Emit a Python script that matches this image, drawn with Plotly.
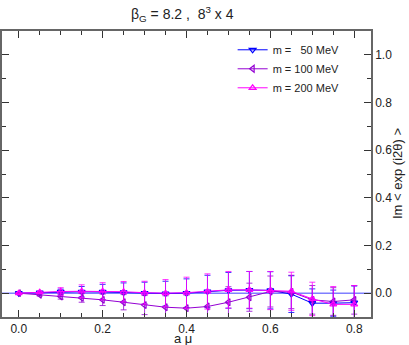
import plotly.graph_objects as go

# a*mu values
a_mu = [0.0, 0.05, 0.10, 0.15, 0.20, 0.25, 0.30, 0.35, 0.40,
        0.45, 0.50, 0.55, 0.60, 0.65, 0.70, 0.75, 0.80]

# Im < exp(i 2 theta) > per quark mass
im_50 = [0.0, 0.002, 0.005, 0.006, 0.005, 0.003, 0.0, -0.002, 0.0,
         0.007, 0.012, 0.013, 0.012, -0.004, -0.042, -0.042, -0.040]
err_50 = [0.0, 0.004, 0.012, 0.022, 0.032, 0.040, 0.046, 0.052, 0.060,
          0.068, 0.075, 0.078, 0.078, 0.077, 0.060, 0.055, 0.070]

im_100 = [0.0, -0.007, -0.014, -0.020, -0.028, -0.038, -0.050, -0.059, -0.063,
          -0.056, -0.038, -0.017, 0.007, 0.005, -0.028, -0.035, -0.028]
err_100 = [0.0, 0.005, 0.011, 0.018, 0.024, 0.032, 0.040, 0.048, 0.055,
           0.060, 0.065, 0.059, 0.065, 0.070, 0.060, 0.058, 0.060]

im_200 = [0.0, 0.004, 0.007, 0.008, 0.008, 0.006, 0.002, 0.0, 0.002,
          0.007, 0.014, 0.014, 0.011, 0.008, -0.024, -0.047, -0.047]
err_200 = [0.0, 0.004, 0.016, 0.027, 0.036, 0.043, 0.048, 0.057, 0.065,
           0.074, 0.077, 0.077, 0.080, 0.080, 0.070, 0.075, 0.079]

series = [
    ("m =\u2007 50 MeV", im_50, err_50, "#0000ff", "triangle-down-open"),
    ("m = 100 MeV", im_100, err_100, "#9400d3", "triangle-left-open"),
    ("m = 200 MeV", im_200, err_200, "#ff00ff", "triangle-up-open"),
]

FONT = "Liberation Sans, Arial, sans-serif"

fig = go.Figure()

# Nulllinie
fig.add_trace(go.Scatter(
    x=[-0.04, 0.84], y=[0, 0], mode="lines",
    line=dict(color="#7f7fff", width=1.5),
    showlegend=False, hoverinfo="skip"
))

for name, vals, errs, color, symbol in series:
    fig.add_trace(go.Scatter(
        x=a_mu, y=vals, name=name,
        mode="lines+markers",
        line=dict(color=color, width=1),
        marker=dict(symbol=symbol, size=6, color=color, line=dict(width=1.2, color=color)),
        error_y=dict(type="data", array=errs, color=color, thickness=0.8, width=3),
        cliponaxis=True
    ))

axis_common = dict(
    showgrid=False, zeroline=False, showline=True, linecolor="#666666", linewidth=1.5,
    mirror="ticks", ticks="inside", ticklen=7, tickcolor="#333333", tickwidth=1,
    tickfont=dict(family=FONT, size=12, color="#222222"), automargin=False,
)

fig.update_layout(
    width=409, height=345,
    margin=dict(l=2, r=38, t=31, b=28),
    paper_bgcolor="white", plot_bgcolor="white",
    font=dict(family=FONT, size=12, color="#222222"),
    showlegend=True,
    legend=dict(
        x=0.625, y=0.985, xanchor="left", yanchor="top",
        bgcolor="rgba(0,0,0,0)", font=dict(family=FONT, size=11),
        itemwidth=30, tracegroupgap=0
    ),
    xaxis=dict(
        range=[-0.04, 0.84], dtick=0.2, tickformat=".1f",
        minor=dict(dtick=0.05, ticks="inside", ticklen=4, tickcolor="#333333"),
        **axis_common
    ),
    yaxis=dict(
        range=[-0.1, 1.1], dtick=0.2, tickformat=".1f", side="right",
        minor=dict(dtick=0.1, ticks="inside", ticklen=4, tickcolor="#333333"),
        **axis_common
    ),
    annotations=[
        dict(text="\u03b2<sub>G</sub> = 8.2 ,\u00a0\u00a08<sup>3</sup> x 4",
             xref="paper", yref="paper", x=0.49, y=1.0, yshift=17,
             xanchor="center", yanchor="middle", showarrow=False,
             font=dict(family=FONT, size=14)),
        dict(text="a \u03bc",
             xref="paper", yref="paper", x=0.49, y=0.0, yshift=-21,
             xanchor="center", yanchor="middle", showarrow=False, borderpad=0,
             font=dict(family=FONT, size=13)),
        dict(text="Im < exp (i2\u03b8) >", textangle=-90,
             xref="paper", yref="paper", x=1.0, xshift=26, y=0.5,
             xanchor="center", yanchor="middle", showarrow=False,
             font=dict(family=FONT, size=13)),
    ],
)

fig.write_html("out.html", config={"displayModeBar": False},
               post_script="document.body.style.margin='0';")
